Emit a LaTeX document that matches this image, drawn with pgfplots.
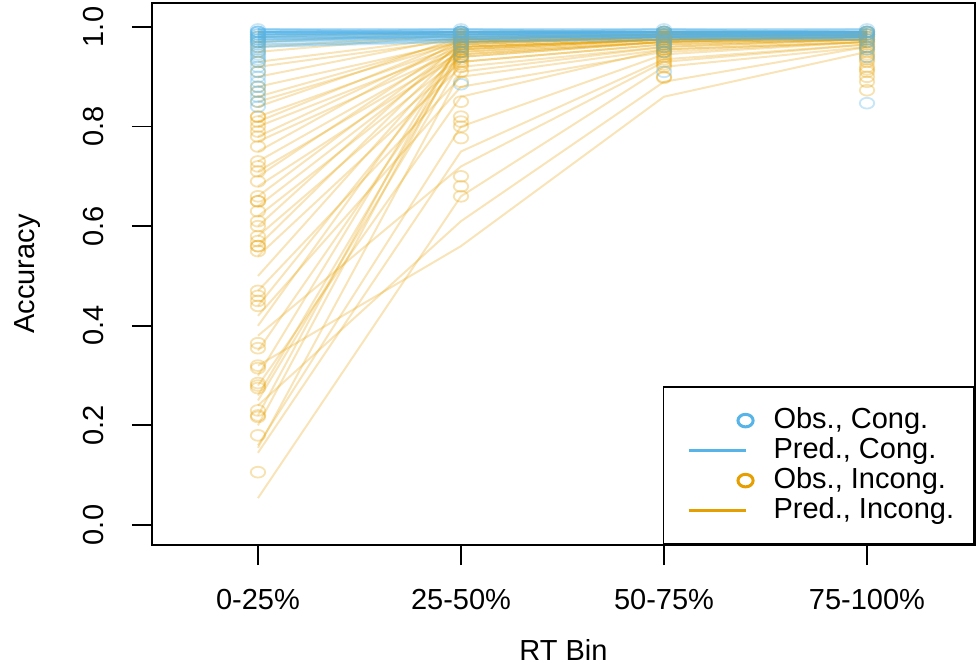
\documentclass[border=0pt]{standalone}
\usepackage{pgfplots}
\pgfplotsset{compat=1.18}
\usepackage{fontspec}
\setmainfont{Liberation Sans}
\definecolor{cblue}{RGB}{86,180,233}
\definecolor{corange}{RGB}{230,159,0}
\newcommand{\lf}{\fontsize{14.5}{17}\selectfont}
\pgfplotsset{
  oline/.style={draw=corange, draw opacity=0.28, line width=1pt, mark=none, forget plot},
  bline/.style={draw=cblue, draw opacity=0.28, line width=1pt, mark=none, forget plot},
  omark/.style={only marks, mark=o, draw=corange, draw opacity=0.3, mark size=3pt, line width=0.9pt, mark options={xscale=1.2, yscale=0.9}, forget plot},
  bmark/.style={only marks, mark=o, draw=cblue, draw opacity=0.33, mark size=3pt, line width=0.9pt, mark options={xscale=1.2, yscale=0.9}, forget plot},
  legcirc/.style={only marks, legend image code/.code={\begin{pgfinterruptboundingbox}\draw[##1] plot coordinates {(31pt,0pt)};\end{pgfinterruptboundingbox}\path[draw=none] (0pt,0pt) -- (32pt,0pt);}},
  legline/.style={legend image code/.code={\draw[##1] (2.5pt,0pt) -- (31pt,0pt);\path[draw=none] (0pt,0pt) -- (32pt,0pt);}},
}
\begin{document}
\begin{tikzpicture}
\begin{axis}[
  scale only axis, width=411.5pt, height=271pt,
  xmin=0.478, xmax=4.532, ymin=-0.0402, ymax=1.0482,
  axis line style={line width=0.9pt}, every tick/.style={line width=0.9pt, black},
  tick align=outside, major tick length=10pt,
  xtick={1,2,3,4}, xticklabels={0-25\%,25-50\%,50-75\%,75-100\%},
  ytick={0,0.2,0.4,0.6,0.8,1.0},
  yticklabels={0.0,0.2,0.4,0.6,0.8,1.0},
  xtick pos=bottom, ytick pos=left,
  /pgf/number format/assume math mode=true,
  xticklabel style={font=\lf, anchor=north, inner sep=0pt},
  yticklabel style={font=\lf, rotate=90, anchor=south, inner sep=0pt},
  xticklabel shift=12pt, yticklabel shift=14pt,
  xlabel={RT Bin}, ylabel={Accuracy},
  xlabel style={font=\lf, at={([yshift=-47pt]axis description cs:0.5,0)}, anchor=north, inner sep=0pt},
  ylabel style={font=\lf, at={([xshift=-58.5pt]axis description cs:0,0.5)}, anchor=base, inner sep=0pt},
  legend style={at={(1,0)}, anchor=south east, draw=black, line width=0.9pt,
    inner xsep=10pt, inner ysep=10pt, row sep=1.5pt, column sep=13pt,
    font=\lf, nodes={inner sep=0pt, text height=10.5pt, text depth=3pt}},
  legend cell align=left,
  clip=false,
]
% ---- incongruent predicted lines
\addplot[oline] coordinates {(1,0.98)(2,0.99)(3,0.99)(4,0.99)};
\addplot[oline] coordinates {(1,0.97)(2,0.99)(3,0.99)(4,0.99)};
\addplot[oline] coordinates {(1,0.96)(2,0.985)(3,0.99)(4,0.99)};
\addplot[oline] coordinates {(1,0.95)(2,0.985)(3,0.985)(4,0.99)};
\addplot[oline] coordinates {(1,0.93)(2,0.98)(3,0.985)(4,0.99)};
\addplot[oline] coordinates {(1,0.92)(2,0.975)(3,0.985)(4,0.985)};
\addplot[oline] coordinates {(1,0.90)(2,0.98)(3,0.985)(4,0.99)};
\addplot[oline] coordinates {(1,0.88)(2,0.97)(3,0.98)(4,0.985)};
\addplot[oline] coordinates {(1,0.86)(2,0.975)(3,0.985)(4,0.985)};
\addplot[oline] coordinates {(1,0.85)(2,0.97)(3,0.98)(4,0.985)};
\addplot[oline] coordinates {(1,0.84)(2,0.98)(3,0.985)(4,0.99)};
\addplot[oline] coordinates {(1,0.82)(2,0.965)(3,0.98)(4,0.985)};
\addplot[oline] coordinates {(1,0.81)(2,0.975)(3,0.985)(4,0.985)};
\addplot[oline] coordinates {(1,0.80)(2,0.96)(3,0.975)(4,0.98)};
\addplot[oline] coordinates {(1,0.78)(2,0.97)(3,0.98)(4,0.985)};
\addplot[oline] coordinates {(1,0.77)(2,0.955)(3,0.975)(4,0.98)};
\addplot[oline] coordinates {(1,0.75)(2,0.975)(3,0.985)(4,0.985)};
\addplot[oline] coordinates {(1,0.73)(2,0.96)(3,0.975)(4,0.98)};
\addplot[oline] coordinates {(1,0.71)(2,0.95)(3,0.97)(4,0.98)};
\addplot[oline] coordinates {(1,0.70)(2,0.97)(3,0.98)(4,0.985)};
\addplot[oline] coordinates {(1,0.68)(2,0.945)(3,0.97)(4,0.98)};
\addplot[oline] coordinates {(1,0.66)(2,0.965)(3,0.98)(4,0.985)};
\addplot[oline] coordinates {(1,0.64)(2,0.955)(3,0.975)(4,0.98)};
\addplot[oline] coordinates {(1,0.62)(2,0.94)(3,0.97)(4,0.975)};
\addplot[oline] coordinates {(1,0.60)(2,0.97)(3,0.98)(4,0.985)};
\addplot[oline] coordinates {(1,0.58)(2,0.93)(3,0.965)(4,0.975)};
\addplot[oline] coordinates {(1,0.56)(2,0.96)(3,0.975)(4,0.98)};
\addplot[oline] coordinates {(1,0.54)(2,0.92)(3,0.96)(4,0.975)};
\addplot[oline] coordinates {(1,0.50)(2,0.955)(3,0.975)(4,0.98)};
\addplot[oline] coordinates {(1,0.47)(2,0.90)(3,0.955)(4,0.97)};
\addplot[oline] coordinates {(1,0.44)(2,0.945)(3,0.97)(4,0.98)};
\addplot[oline] coordinates {(1,0.42)(2,0.88)(3,0.95)(4,0.97)};
\addplot[oline] coordinates {(1,0.40)(2,0.965)(3,0.98)(4,0.985)};
\addplot[oline] coordinates {(1,0.38)(2,0.72)(3,0.93)(4,0.965)};
\addplot[oline] coordinates {(1,0.35)(2,0.94)(3,0.97)(4,0.975)};
\addplot[oline] coordinates {(1,0.32)(2,0.56)(3,0.86)(4,0.95)};
\addplot[oline] coordinates {(1,0.30)(2,0.97)(3,0.98)(4,0.985)};
\addplot[oline] coordinates {(1,0.28)(2,0.86)(3,0.955)(4,0.97)};
\addplot[oline] coordinates {(1,0.26)(2,0.95)(3,0.975)(4,0.98)};
\addplot[oline] coordinates {(1,0.25)(2,0.93)(3,0.965)(4,0.975)};
\addplot[oline] coordinates {(1,0.24)(2,0.61)(3,0.89)(4,0.96)};
\addplot[oline] coordinates {(1,0.22)(2,0.975)(3,0.985)(4,0.985)};
\addplot[oline] coordinates {(1,0.20)(2,0.96)(3,0.975)(4,0.98)};
\addplot[oline] coordinates {(1,0.16)(2,0.80)(3,0.945)(4,0.97)};
\addplot[oline] coordinates {(1,0.155)(2,0.91)(3,0.96)(4,0.975)};
\addplot[oline] coordinates {(1,0.145)(2,0.75)(3,0.935)(4,0.965)};
\addplot[oline] coordinates {(1,0.054)(2,0.66)(3,0.92)(4,0.96)};
% ---- incongruent observed
\addplot[omark] coordinates {
(1,0.98)(1,0.97)(1,0.96)(1,0.95)(1,0.93)(1,0.91)(1,0.88)(1,0.87)(1,0.85)(1,0.82)
(1,0.82)(1,0.81)(1,0.80)(1,0.79)(1,0.78)(1,0.76)(1,0.73)(1,0.72)(1,0.71)(1,0.69)
(1,0.66)(1,0.65)(1,0.65)(1,0.63)(1,0.61)(1,0.60)(1,0.58)(1,0.57)(1,0.56)(1,0.56)
(1,0.55)(1,0.47)(1,0.46)(1,0.45)(1,0.44)(1,0.365)(1,0.355)(1,0.32)(1,0.315)(1,0.285)
(1,0.28)(1,0.275)(1,0.23)(1,0.22)(1,0.217)(1,0.18)(1,0.106)
(2,0.99)(2,0.985)(2,0.985)(2,0.98)(2,0.98)(2,0.975)(2,0.975)(2,0.97)(2,0.97)(2,0.97)
(2,0.965)(2,0.965)(2,0.96)(2,0.96)(2,0.955)(2,0.955)(2,0.95)(2,0.95)(2,0.945)(2,0.94)
(2,0.94)(2,0.935)(2,0.93)(2,0.925)(2,0.92)(2,0.91)(2,0.89)(2,0.85)(2,0.82)(2,0.81)
(2,0.80)(2,0.777)(2,0.70)(2,0.68)(2,0.66)
(3,0.99)(3,0.99)(3,0.985)(3,0.985)(3,0.98)(3,0.98)(3,0.98)(3,0.975)(3,0.975)(3,0.97)
(3,0.97)(3,0.965)(3,0.965)(3,0.96)(3,0.96)(3,0.955)(3,0.955)(3,0.95)(3,0.95)(3,0.945)
(3,0.94)(3,0.935)(3,0.93)(3,0.925)(3,0.92)(3,0.90)(3,0.898)
(4,0.99)(4,0.99)(4,0.985)(4,0.985)(4,0.98)(4,0.98)(4,0.975)(4,0.975)(4,0.97)(4,0.97)
(4,0.965)(4,0.96)(4,0.96)(4,0.955)(4,0.95)(4,0.945)(4,0.94)(4,0.935)(4,0.93)(4,0.92)
(4,0.915)(4,0.91)(4,0.90)(4,0.89)(4,0.873)
};
% ---- congruent predicted lines
\addplot[bline] coordinates {(1,0.995)(2,0.99)(3,0.99)(4,0.99)};
\addplot[bline] coordinates {(1,0.99)(2,0.99)(3,0.99)(4,0.99)};
\addplot[bline] coordinates {(1,0.99)(2,0.985)(3,0.99)(4,0.99)};
\addplot[bline] coordinates {(1,0.985)(2,0.99)(3,0.99)(4,0.985)};
\addplot[bline] coordinates {(1,0.985)(2,0.985)(3,0.985)(4,0.99)};
\addplot[bline] coordinates {(1,0.98)(2,0.985)(3,0.99)(4,0.99)};
\addplot[bline] coordinates {(1,0.98)(2,0.98)(3,0.985)(4,0.985)};
\addplot[bline] coordinates {(1,0.975)(2,0.985)(3,0.985)(4,0.99)};
\addplot[bline] coordinates {(1,0.975)(2,0.98)(3,0.98)(4,0.985)};
\addplot[bline] coordinates {(1,0.97)(2,0.98)(3,0.985)(4,0.985)};
\addplot[bline] coordinates {(1,0.97)(2,0.975)(3,0.98)(4,0.98)};
\addplot[bline] coordinates {(1,0.965)(2,0.975)(3,0.98)(4,0.985)};
\addplot[bline] coordinates {(1,0.96)(2,0.97)(3,0.975)(4,0.98)};
\addplot[bline] coordinates {(1,0.99)(2,0.99)(3,0.985)(4,0.98)};
\addplot[bline] coordinates {(1,0.995)(2,0.995)(3,0.99)(4,0.985)};
\addplot[bline] coordinates {(1,0.99)(2,0.985)(3,0.98)(4,0.98)};
\addplot[bline] coordinates {(1,0.985)(2,0.98)(3,0.98)(4,0.975)};
\addplot[bline] coordinates {(1,0.98)(2,0.975)(3,0.975)(4,0.975)};
\addplot[bline] coordinates {(1,0.99)(2,0.99)(3,0.99)(4,0.995)};
\addplot[bline] coordinates {(1,0.985)(2,0.99)(3,0.995)(4,0.995)};
\addplot[bline] coordinates {(1,0.995)(2,0.995)(3,0.995)(4,0.995)};
\addplot[bline] coordinates {(1,0.99)(2,0.995)(3,0.99)(4,0.99)};
\addplot[bline] coordinates {(1,0.985)(2,0.985)(3,0.99)(4,0.985)};
\addplot[bline] coordinates {(1,0.98)(2,0.99)(3,0.99)(4,0.99)};
\addplot[bline] coordinates {(1,0.975)(2,0.975)(3,0.985)(4,0.98)};
\addplot[bline] coordinates {(1,0.97)(2,0.985)(3,0.99)(4,0.99)};
\addplot[bline] coordinates {(1,0.965)(2,0.97)(3,0.975)(4,0.975)};
\addplot[bline] coordinates {(1,0.99)(2,0.99)(3,0.995)(4,0.99)};
\addplot[bline] coordinates {(1,0.995)(2,0.99)(3,0.985)(4,0.99)};
\addplot[bline] coordinates {(1,0.985)(2,0.99)(3,0.985)(4,0.98)};
\addplot[bline] coordinates {(1,0.98)(2,0.98)(3,0.98)(4,0.985)};
\addplot[bline] coordinates {(1,0.99)(2,0.985)(3,0.985)(4,0.985)};
\addplot[bline] coordinates {(1,0.975)(2,0.98)(3,0.99)(4,0.99)};
\addplot[bline] coordinates {(1,0.96)(2,0.975)(3,0.98)(4,0.98)};
\addplot[bline] coordinates {(1,0.99)(2,0.995)(3,0.995)(4,0.99)};
\addplot[bline] coordinates {(1,0.985)(2,0.985)(3,0.98)(4,0.99)};
% ---- congruent observed
\addplot[bmark] coordinates {
(1,0.995)(1,0.99)(1,0.99)(1,0.99)(1,0.985)(1,0.985)(1,0.98)(1,0.98)(1,0.975)(1,0.975)
(1,0.97)(1,0.97)(1,0.965)(1,0.96)(1,0.955)(1,0.95)(1,0.945)(1,0.94)(1,0.935)(1,0.93)
(1,0.92)(1,0.91)(1,0.90)(1,0.89)(1,0.88)(1,0.87)(1,0.86)(1,0.85)(1,0.84)
(2,0.995)(2,0.99)(2,0.99)(2,0.99)(2,0.99)(2,0.985)(2,0.985)(2,0.98)(2,0.98)(2,0.975)
(2,0.97)(2,0.965)(2,0.96)(2,0.95)(2,0.94)(2,0.885)
(3,0.995)(3,0.99)(3,0.99)(3,0.99)(3,0.985)(3,0.985)(3,0.98)(3,0.975)(3,0.97)(3,0.965)
(3,0.96)(3,0.95)(3,0.91)
(4,0.995)(4,0.99)(4,0.99)(4,0.99)(4,0.985)(4,0.985)(4,0.98)(4,0.975)(4,0.97)(4,0.96)
(4,0.955)(4,0.94)(4,0.847)
};
% ---- legend
\addlegendimage{legcirc, draw=cblue, line width=1.5pt, mark=o, mark size=3.3pt, mark options={xscale=1.15, yscale=0.95}}
\addlegendentry{Obs., Cong.}
\addlegendimage{legline, draw=cblue, line width=1.5pt}
\addlegendentry{Pred., Cong.}
\addlegendimage{legcirc, draw=corange, line width=1.5pt, mark=o, mark size=3.3pt, mark options={xscale=1.15, yscale=0.95}}
\addlegendentry{Obs., Incong.}
\addlegendimage{legline, draw=corange, line width=1.5pt}
\addlegendentry{Pred., Incong.}
\end{axis}
\pgfresetboundingbox
\path ([xshift=-76pt,yshift=-61.5pt]current axis.south west) rectangle ([xshift=2pt,yshift=1.5pt]current axis.north east);
\end{tikzpicture}
\end{document}
